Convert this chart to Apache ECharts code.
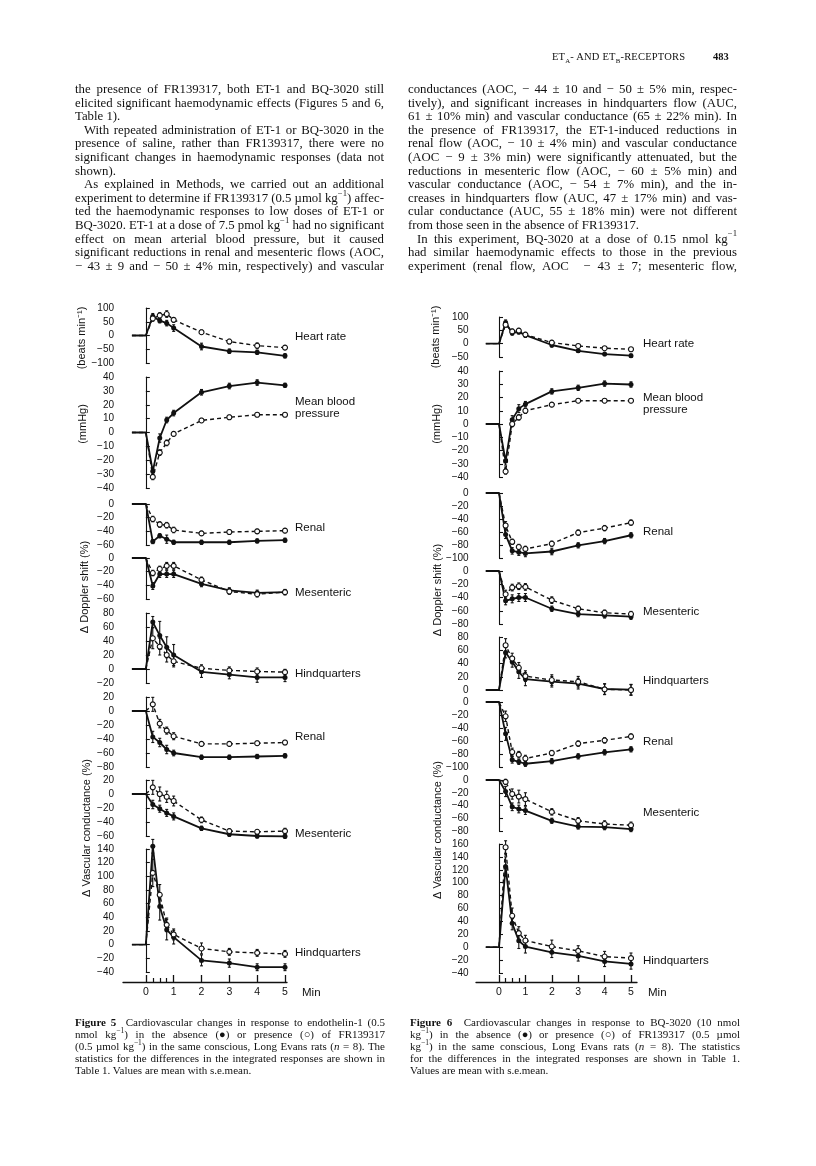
<!DOCTYPE html>
<html>
<head>
<meta charset="utf-8">
<script src="https://cdn.jsdelivr.net/npm/echarts@6/dist/echarts.min.js"></script>
<style>
  body { margin: 0; background: #fff; }
  #page { position: relative; width: 816px; height: 1166px; overflow: hidden;
          font-family: "Liberation Serif", "Times New Roman", serif; color: #111; }
  #chart { position: absolute; left: 0; top: 0; width: 816px; height: 1166px; }
  .blk { position: absolute; }
  .ln { white-space: nowrap; overflow: visible; height: inherit; }
  .ind { padding-left: 9px; }
  .body { font-size: 12.8px; line-height: 13.6px; }
  .cap { font-size: 11px; line-height: 12px; }
  sup { font-size: 0.68em; line-height: 0; position: relative; top: -0.1em; }
  #head { font-size: 10.5px; top: 51px; left: 552px; letter-spacing: 0.2px; }
  #pageno { font-size: 10.5px; font-weight: bold; top: 51px; left: 713px; }
</style>
</head>
<body>
<div id="page">
  <div id="chart"></div>

  <div class="blk" id="head">ET<sub style="font-size:0.65em">A</sub>- AND ET<sub style="font-size:0.65em">B</sub>-RECEPTORS</div>
  <div class="blk" id="pageno">483</div>

  <div class="blk body" style="left:75px; top:83px; width:309px;">
    <div class="ln j">the presence of FR139317, both ET-1 and BQ-3020 still</div>
    <div class="ln j">elicited significant haemodynamic effects (Figures 5 and 6,</div>
    <div class="ln">Table 1).</div>
    <div class="ln j ind">With repeated administration of ET-1 or BQ-3020 in the</div>
    <div class="ln j">presence of saline, rather than FR139317, there were no</div>
    <div class="ln j">significant changes in haemodynamic responses (data not</div>
    <div class="ln">shown).</div>
    <div class="ln j ind">As explained in Methods, we carried out an additional</div>
    <div class="ln j">experiment to determine if FR139317 (0.5 µmol kg<sup>−1</sup>) affec-</div>
    <div class="ln j">ted the haemodynamic responses to low doses of ET-1 or</div>
    <div class="ln j">BQ-3020. ET-1 at a dose of 7.5 pmol kg<sup>−1</sup> had no significant</div>
    <div class="ln j">effect on mean arterial blood pressure, but it caused</div>
    <div class="ln j">significant reductions in renal and mesenteric flows (AOC,</div>
    <div class="ln j">− 43 ± 9 and − 50 ± 4% min, respectively) and vascular</div>
  </div>

  <div class="blk body" style="left:408px; top:83px; width:329px;">
    <div class="ln j">conductances (AOC, − 44 ± 10 and − 50 ± 5% min, respec-</div>
    <div class="ln j">tively), and significant increases in hindquarters flow (AUC,</div>
    <div class="ln j">61 ± 10% min) and vascular conductance (65 ± 22% min). In</div>
    <div class="ln j">the presence of FR139317, the ET-1-induced reductions in</div>
    <div class="ln j">renal flow (AOC, − 10 ± 4% min) and vascular conductance</div>
    <div class="ln j">(AOC − 9 ± 3% min) were significantly attenuated, but the</div>
    <div class="ln j">reductions in mesenteric flow (AOC, − 60 ± 5% min) and</div>
    <div class="ln j">vascular conductance (AOC, − 54 ± 7% min), and the in-</div>
    <div class="ln j">creases in hindquarters flow (AUC, 47 ± 17% min) and vas-</div>
    <div class="ln j">cular conductance (AUC, 55 ± 18% min) were not different</div>
    <div class="ln">from those seen in the absence of FR139317.</div>
    <div class="ln j ind">In this experiment, BQ-3020 at a dose of 0.15 nmol kg<sup>−1</sup></div>
    <div class="ln j">had similar haemodynamic effects to those in the previous</div>
    <div class="ln j">experiment (renal flow, AOC &nbsp;− 43 ± 7; mesenteric flow,</div>
  </div>

  <div class="blk cap" style="left:75px; top:1016px; width:310px;">
    <div class="ln j"><b>Figure 5</b>&nbsp; Cardiovascular changes in response to endothelin-1 (0.5</div>
    <div class="ln j">nmol kg<sup>−1</sup>) in the absence (●) or presence (○) of FR139317</div>
    <div class="ln j">(0.5 µmol kg<sup>−1</sup>) in the same conscious, Long Evans rats (<i>n</i> = 8). The</div>
    <div class="ln j">statistics for the differences in the integrated responses are shown in</div>
    <div class="ln">Table 1. Values are mean with s.e.mean.</div>
  </div>

  <div class="blk cap" style="left:410px; top:1016px; width:330px;">
    <div class="ln j"><b>Figure 6</b>&nbsp; Cardiovascular changes in response to BQ-3020 (10 nmol</div>
    <div class="ln j">kg<sup>−1</sup>) in the absence (●) or presence (○) of FR139317 (0.5 µmol</div>
    <div class="ln j">kg<sup>−1</sup>) in the same conscious, Long Evans rats (<i>n</i> = 8). The statistics</div>
    <div class="ln j">for the differences in the integrated responses are shown in Table 1.</div>
    <div class="ln">Values are mean with s.e.mean.</div>
  </div>
</div>

<script>
// time points (min); -0.5 and 0 are the pre-injection baseline
const times = [-0.5, 0, 0.25, 0.5, 0.75, 1, 2, 3, 4, 5];
const majorTicks = [0, 1, 2, 3, 4, 5];
const minorTicks = [0.25, 0.5, 0.75];

// ---- Figure 5: endothelin-1, closed = absence, open = presence of FR139317
const f5HrClosed = [0, 0, 70, 54, 45, 27, -40, -57, -61, -74];
const f5HrClosedSem = [0, 0, 10, 8, 10, 12, 12, 8, 8, 8];
const f5HrOpen = [0, 0, 62, 73, 78, 57, 12, -22, -37, -44];
const f5HrOpenSem = [0, 0, 10, 10, 12, 8, 8, 8, 10, 5];

const f5MbpClosed = [0, 0, -28, -4, 9, 14, 29, 33.5, 36, 34];
const f5MbpClosedSem = [0, 0, 2, 3, 2, 2, 2, 2, 2, 1.5];
const f5MbpOpen = [0, 0, -32, -14.5, -7.5, -1, 8.7, 11, 12.8, 12.8];
const f5MbpOpenSem = [0, 0, 2, 2, 2, 1.5, 1.5, 1.5, 1, 1];

const f5DopRenalClosed = [0, 0, -55, -46.5, -51.5, -56, -56, -56, -54, -53];
const f5DopRenalClosedSem = [0, 0, 3, 3, 6, 3, 3, 3, 3, 3];
const f5DopRenalOpen = [0, 0, -22, -30, -31, -38, -43, -41, -40, -39];
const f5DopRenalOpenSem = [0, 0, 4, 4, 4, 4, 3, 3, 3, 3];

const f5DopMesClosed = [0, 0, -41, -23.5, -23.5, -23.5, -38, -47.5, -51, -50];
const f5DopMesClosedSem = [0, 0, 5, 5, 5, 5, 4, 4, 4, 4];
const f5DopMesOpen = [0, 0, -22, -16, -11.5, -11.5, -32, -49, -53, -50];
const f5DopMesOpenSem = [0, 0, 4, 4, 5, 5, 4, 4, 4, 3];

const f5DopHindClosed = [0, 0, 67, 48, 31, 20, -4, -8, -12, -12];
const f5DopHindClosedSem = [0, 0, 8, 20, 15, 15, 8, 6, 7, 6];
const f5DopHindOpen = [0, 0, 44, 32, 20, 11, 1, -2, -3.5, -4.5];
const f5DopHindOpenSem = [0, 0, 15, 12, 10, 8, 5, 5, 5, 4];

const f5VcRenalClosed = [0, 0, -37, -45, -55, -60, -66, -66, -65, -64];
const f5VcRenalClosedSem = [0, 0, 8, 6, 6, 4, 3, 3, 3, 3];
const f5VcRenalOpen = [0, 0, 9.5, -18, -28, -36, -47, -47, -46, -45];
const f5VcRenalOpenSem = [0, 0, 10, 6, 5, 5, 3, 3, 3, 3];

const f5VcMesClosed = [0, 0, -15, -21, -27, -32, -49, -57.5, -60, -60.5];
const f5VcMesClosedSem = [0, 0, 6, 5, 5, 5, 3, 3, 3, 3];
const f5VcMesOpen = [0, 0, 9.5, 0, -4, -10, -37, -53, -54, -53];
const f5VcMesOpenSem = [0, 0, 10, 10, 8, 7, 4, 3, 3, 4];

const f5VcHindClosed = [0, 0, 144, 56, 22, 11, -23, -27, -33, -33];
const f5VcHindClosedSem = [0, 0, 10, 20, 15, 10, 8, 6, 5, 5];
const f5VcHindOpen = [0, 0, 105, 73, 29, 15, -5.5, -10.5, -12, -13.5];
const f5VcHindOpenSem = [0, 0, 20, 15, 10, 8, 8, 5, 5, 5];

// ---- Figure 6: BQ-3020
const f6HrClosed = [0, 0, 79, 40, 44, 32, -5, -27, -39, -45];
const f6HrClosedSem = [0, 0, 10, 8, 8, 8, 8, 6, 6, 6];
const f6HrOpen = [0, 0, 71, 46, 49, 34, 4, -8.5, -17, -21];
const f6HrOpenSem = [0, 0, 8, 8, 8, 8, 8, 6, 6, 6];

const f6MbpClosed = [0, 0, -28, 3.3, 11.6, 15, 24.6, 27.3, 30.5, 29.8];
const f6MbpClosedSem = [0, 0, 3, 3, 3, 2, 2, 2, 2, 2];
const f6MbpOpen = [0, 0, -35.8, 0, 5, 10, 14.6, 17.6, 17.6, 17.6];
const f6MbpOpenSem = [0, 0, 2, 2, 2, 2, 1.5, 1.5, 1.5, 1.5];

const f6DopRenalClosed = [0, 0, -64, -89, -91, -93, -90, -80.5, -74, -65];
const f6DopRenalClosedSem = [0, 0, 6, 5, 5, 5, 5, 4, 4, 4];
const f6DopRenalOpen = [0, 0, -50, -75, -83, -86, -78, -61, -54, -45.6];
const f6DopRenalOpenSem = [0, 0, 6, 4, 4, 4, 4, 4, 4, 4];

const f6DopMesClosed = [0, 0, -45, -42, -40, -40, -57, -65, -67, -69];
const f6DopMesClosedSem = [0, 0, 6, 6, 6, 6, 4, 4, 4, 4];
const f6DopMesOpen = [0, 0, -35, -25, -23, -24, -44, -57, -63, -65];
const f6DopMesOpenSem = [0, 0, 6, 5, 5, 5, 5, 4, 4, 4];

const f6DopHindClosed = [0, 0, 56.5, 42.5, 27.5, 16.5, 12.5, 9.5, 1.5, 0.5];
const f6DopHindClosedSem = [0, 0, 8, 8, 10, 10, 8, 8, 8, 8];
const f6DopHindOpen = [0, 0, 67.5, 47.5, 33.5, 21, 15, 12.5, 1, 0];
const f6DopHindOpenSem = [0, 0, 10, 8, 8, 8, 8, 8, 8, 8];

const f6VcRenalClosed = [0, 0, -49, -89, -92, -95, -91, -83.6, -77.4, -72.8];
const f6VcRenalClosedSem = [0, 0, 10, 5, 4, 4, 4, 4, 4, 4];
const f6VcRenalOpen = [0, 0, -22, -77, -81, -87, -78.5, -64, -59, -53];
const f6VcRenalOpenSem = [0, 0, 8, 6, 5, 5, 4, 4, 4, 4];

const f6VcMesClosed = [0, 0, -18, -42, -45.5, -48, -64, -73, -74, -77];
const f6VcMesClosedSem = [0, 0, 8, 6, 6, 6, 4, 4, 4, 4];
const f6VcMesOpen = [0, 0, -3, -22, -26, -30, -50, -64, -69, -71];
const f6VcMesOpenSem = [0, 0, 4, 8, 10, 10, 5, 5, 5, 5];

const f6VcHindClosed = [0, 0, 125, 37, 10, 1, -8, -13.5, -22, -26];
const f6VcHindClosedSem = [0, 0, 15, 10, 12, 10, 8, 8, 8, 8];
const f6VcHindOpen = [0, 0, 155, 48.7, 21.8, 10.4, 1, -5.7, -14.5, -17];
const f6VcHindOpenSem = [0, 0, 10, 12, 10, 8, 10, 8, 8, 8];

// ---- layout (page pixels)
const figs = [
  { left: 118, right: 285, axisLeft: 123, axisRight: 287, labelX: 295, minX: 302 },
  { left: 472.6, right: 631, axisLeft: 476, axisRight: 637, labelX: 643, minX: 648 }
];
const xAxisY = 982;

const panels = [
  { fig: 0, top: 308, bottom: 363, min: -100, max: 100, step: 50, c: f5HrClosed, cs: f5HrClosedSem, o: f5HrOpen, os: f5HrOpenSem, label: ['Heart rate'], ly: 337 },
  { fig: 0, top: 377, bottom: 488, min: -40, max: 40, step: 10, c: f5MbpClosed, cs: f5MbpClosedSem, o: f5MbpOpen, os: f5MbpOpenSem, label: ['Mean blood', 'pressure'], ly: 402 },
  { fig: 0, top: 504, bottom: 545, min: -60, max: 0, step: 20, c: f5DopRenalClosed, cs: f5DopRenalClosedSem, o: f5DopRenalOpen, os: f5DopRenalOpenSem, label: ['Renal'], ly: 528 },
  { fig: 0, top: 558, bottom: 599, min: -60, max: 0, step: 20, c: f5DopMesClosed, cs: f5DopMesClosedSem, o: f5DopMesOpen, os: f5DopMesOpenSem, label: ['Mesenteric'], ly: 593 },
  { fig: 0, top: 613, bottom: 683, min: -20, max: 80, step: 20, c: f5DopHindClosed, cs: f5DopHindClosedSem, o: f5DopHindOpen, os: f5DopHindOpenSem, label: ['Hindquarters'], ly: 674 },
  { fig: 0, top: 697, bottom: 767, min: -80, max: 20, step: 20, c: f5VcRenalClosed, cs: f5VcRenalClosedSem, o: f5VcRenalOpen, os: f5VcRenalOpenSem, label: ['Renal'], ly: 737 },
  { fig: 0, top: 780, bottom: 836, min: -60, max: 20, step: 20, c: f5VcMesClosed, cs: f5VcMesClosedSem, o: f5VcMesOpen, os: f5VcMesOpenSem, label: ['Mesenteric'], ly: 834 },
  { fig: 0, top: 849, bottom: 972, min: -40, max: 140, step: 20, c: f5VcHindClosed, cs: f5VcHindClosedSem, o: f5VcHindOpen, os: f5VcHindOpenSem, label: ['Hindquarters'], ly: 953 },

  { fig: 1, top: 317, bottom: 357, min: -50, max: 100, step: 50, c: f6HrClosed, cs: f6HrClosedSem, o: f6HrOpen, os: f6HrOpenSem, label: ['Heart rate'], ly: 344 },
  { fig: 1, top: 371, bottom: 477, min: -40, max: 40, step: 10, c: f6MbpClosed, cs: f6MbpClosedSem, o: f6MbpOpen, os: f6MbpOpenSem, label: ['Mean blood', 'pressure'], ly: 398 },
  { fig: 1, top: 493, bottom: 558, min: -100, max: 0, step: 20, c: f6DopRenalClosed, cs: f6DopRenalClosedSem, o: f6DopRenalOpen, os: f6DopRenalOpenSem, label: ['Renal'], ly: 532 },
  { fig: 1, top: 571, bottom: 624, min: -80, max: 0, step: 20, c: f6DopMesClosed, cs: f6DopMesClosedSem, o: f6DopMesOpen, os: f6DopMesOpenSem, label: ['Mesenteric'], ly: 612 },
  { fig: 1, top: 637, bottom: 690, min: 0, max: 80, step: 20, c: f6DopHindClosed, cs: f6DopHindClosedSem, o: f6DopHindOpen, os: f6DopHindOpenSem, label: ['Hindquarters'], ly: 681 },
  { fig: 1, top: 702, bottom: 767, min: -100, max: 0, step: 20, c: f6VcRenalClosed, cs: f6VcRenalClosedSem, o: f6VcRenalOpen, os: f6VcRenalOpenSem, label: ['Renal'], ly: 742 },
  { fig: 1, top: 780, bottom: 831, min: -80, max: 0, step: 20, c: f6VcMesClosed, cs: f6VcMesClosedSem, o: f6VcMesOpen, os: f6VcMesOpenSem, label: ['Mesenteric'], ly: 813 },
  { fig: 1, top: 844, bottom: 973, min: -40, max: 160, step: 20, c: f6VcHindClosed, cs: f6VcHindClosedSem, o: f6VcHindOpen, os: f6VcHindOpenSem, label: ['Hindquarters'], ly: 961 }
];

const axisNames = [
  { x: 82, y: 338, text: '(beats min⁻¹)' },
  { x: 83, y: 424, text: '(mmHg)' },
  { x: 85, y: 587, text: 'Δ Doppler shift (%)' },
  { x: 87, y: 828, text: 'Δ Vascular conductance (%)' },
  { x: 436, y: 337, text: '(beats min⁻¹)' },
  { x: 437, y: 424, text: '(mmHg)' },
  { x: 438, y: 590, text: 'Δ Doppler shift (%)' },
  { x: 438, y: 830, text: 'Δ Vascular conductance (%)' }
];

const INK = '#111';
const SANS = '"Liberation Sans", Arial, Helvetica, sans-serif';
const minus = v => (v < 0 ? '−' + Math.abs(v) : String(v));

const grid = [], xAxis = [], yAxis = [], series = [], graphic = [];

const errorBars = (idx, vals, sems) => ({
  type: 'custom',
  xAxisIndex: idx, yAxisIndex: idx,
  clip: false, silent: true, z: 1,
  data: times.map((t, i) => [t, vals[i], sems[i]]),
  encode: { x: 0, y: 1 },
  renderItem: (params, api) => {
    const t = api.value(0), v = api.value(1), s = api.value(2);
    if (!s) return null;
    const a = api.coord([t, v - s]);
    const b = api.coord([t, v + s]);
    const st = { stroke: INK, lineWidth: 1.1 };
    return {
      type: 'group',
      children: [
        { type: 'line', shape: { x1: a[0], y1: a[1], x2: b[0], y2: b[1] }, style: st },
        { type: 'line', shape: { x1: a[0] - 1.5, y1: a[1], x2: a[0] + 1.5, y2: a[1] }, style: st },
        { type: 'line', shape: { x1: b[0] - 1.5, y1: b[1], x2: b[0] + 1.5, y2: b[1] }, style: st }
      ]
    };
  }
});

panels.forEach((p, idx) => {
  const f = figs[p.fig];
  grid.push({ left: f.left, width: f.right - f.left, top: p.top, height: p.bottom - p.top,
              outerBoundsMode: 'none', containLabel: false });
  xAxis.push({ type: 'value', gridIndex: idx, min: -1, max: 5, show: false });
  yAxis.push({
    type: 'value', gridIndex: idx, min: p.min, max: p.max, interval: p.step,
    axisLine: { show: true, lineStyle: { color: INK, width: 1.1 } },
    axisTick: { show: true, inside: true, length: 4, lineStyle: { color: INK, width: 1.1 } },
    axisLabel: { color: INK, fontSize: 10, fontFamily: SANS, margin: 4, formatter: minus },
    splitLine: { show: false }
  });
  series.push(errorBars(idx, p.c, p.cs));
  series.push(errorBars(idx, p.o, p.os));
  series.push({
    type: 'line', xAxisIndex: idx, yAxisIndex: idx, clip: false, z: 3,
    data: times.map((t, i) => [t, p.c[i]]),
    symbol: 'circle',
    symbolSize: (v, params) => (params.dataIndex < 2 ? 0 : 5),
    itemStyle: { color: INK },
    lineStyle: { color: INK, width: 1.8 }
  });
  series.push({
    type: 'line', xAxisIndex: idx, yAxisIndex: idx, clip: false, z: 4,
    data: times.map((t, i) => [t, p.o[i]]),
    symbol: 'circle',
    symbolSize: (v, params) => (params.dataIndex < 2 ? 0 : 5),
    itemStyle: { color: '#fff', borderColor: INK, borderWidth: 1.1 },
    lineStyle: { color: INK, width: 1.4, type: [4, 3] }
  });
  p.label.forEach((txt, k) => {
    graphic.push({
      type: 'text', x: f.labelX, y: p.ly + k * 11.5, silent: true,
      style: { text: txt, fill: INK, font: '11.5px ' + SANS, textAlign: 'left', textVerticalAlign: 'middle' }
    });
  });
});

// shared time axis under each figure
figs.forEach(f => {
  const pxPerMin = (f.right - f.left) / 6;
  const gi = grid.length;
  grid.push({ left: f.axisLeft, width: f.axisRight - f.axisLeft, top: xAxisY - 1, height: 1,
              outerBoundsMode: 'none', containLabel: false });
  const range = {
    min: -1 + (f.axisLeft - f.left) / pxPerMin,
    max: 5 + (f.axisRight - f.right) / pxPerMin
  };
  xAxis.push({
    type: 'value', gridIndex: gi, position: 'bottom', ...range,
    axisLine: { show: true, lineStyle: { color: INK, width: 1.3 } },
    axisTick: { show: true, inside: true, length: 7, customValues: majorTicks, lineStyle: { color: INK, width: 1.3 } },
    axisLabel: { show: true, customValues: majorTicks, color: INK, fontSize: 10.5, fontFamily: SANS, margin: 5 },
    splitLine: { show: false }
  });
  xAxis.push({
    type: 'value', gridIndex: gi, position: 'bottom', ...range,
    axisLine: { show: false },
    axisTick: { show: true, inside: true, length: 4, customValues: minorTicks, lineStyle: { color: INK, width: 1.2 } },
    axisLabel: { show: false },
    splitLine: { show: false }
  });
  yAxis.push({ type: 'value', gridIndex: gi, min: 0, max: 1, show: false });
  graphic.push({
    type: 'text', x: f.minX, y: xAxisY + 10.5, silent: true,
    style: { text: 'Min', fill: INK, font: '11.5px ' + SANS, textAlign: 'left', textVerticalAlign: 'middle' }
  });
});

axisNames.forEach(a => {
  graphic.push({
    type: 'text', x: a.x, y: a.y, rotation: Math.PI / 2, silent: true,
    style: { text: a.text, fill: INK, font: '11px ' + SANS, textAlign: 'center', textVerticalAlign: 'middle' }
  });
});

const chart = echarts.init(document.getElementById('chart'), null, { renderer: 'canvas' });
chart.setOption({
  animation: false,
  backgroundColor: 'transparent',
  grid, xAxis, yAxis, series, graphic
});

// justify the text lines one by one, like the printed columns
document.querySelectorAll('.ln.j').forEach(el => {
  el.innerHTML = '<span>' + el.innerHTML + '</span>';
  const span = el.firstChild;
  const cs = getComputedStyle(el);
  const avail = el.clientWidth - parseFloat(cs.paddingLeft) - parseFloat(cs.paddingRight);
  const natural = span.getBoundingClientRect().width;
  const gaps = (el.textContent.match(/[ \u00a0]/g) || []).length;
  if (gaps > 0) el.style.wordSpacing = ((avail - natural) / gaps) + 'px';
});
</script>
</body>
</html>
